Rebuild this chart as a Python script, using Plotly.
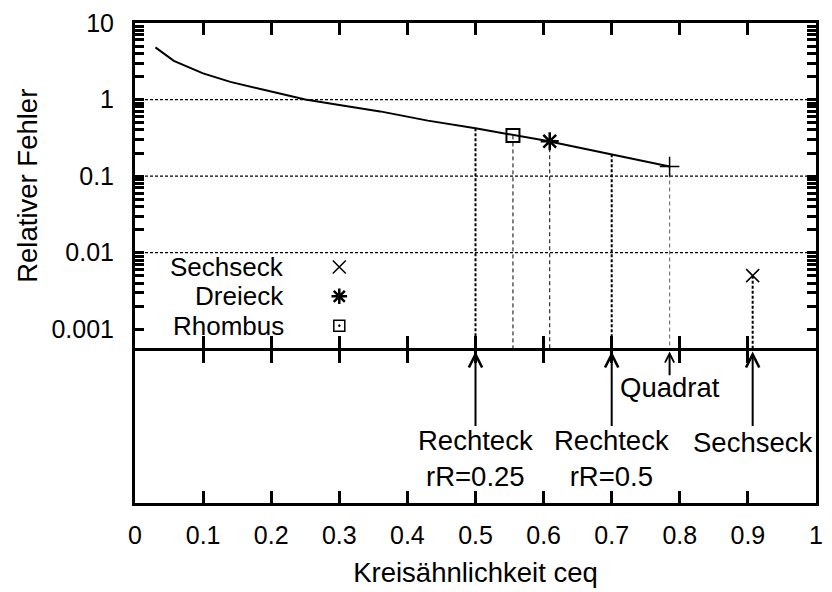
import plotly.graph_objects as go

# ---------------- data ----------------
CURVE_CEQ = [0.03, 0.043, 0.057, 0.1, 0.14, 0.2, 0.25, 0.3, 0.36, 0.43, 0.5, 0.6, 0.7, 0.785]
CURVE_ERR = [4.8, 3.95, 3.2, 2.2, 1.7, 1.27, 1.0, 0.85, 0.70, 0.53, 0.42, 0.293, 0.193, 0.133]

RECHTECK_CEQ = [0.5, 0.7]
RECHTECK_ERR = [0.42, 0.193]
RECHTECK_LABELS = ["Rechteck<br>rR=0.25", "Rechteck<br>rR=0.5"]

RHOMBUS_CEQ = [0.555]
RHOMBUS_ERR = [0.34]
DREIECK_CEQ = [0.609]
DREIECK_ERR = [0.285]
QUADRAT_CEQ = [0.785]
QUADRAT_ERR = [0.133]
SECHSECK_CEQ = [0.907]
SECHSECK_ERR = [0.005]

X_TICKS = [0, 0.1, 0.2, 0.3, 0.4, 0.5, 0.6, 0.7, 0.8, 0.9, 1.0]
X_TICK_LABELS = ["0", "0.1", "0.2", "0.3", "0.4", "0.5", "0.6", "0.7", "0.8", "0.9", "1"]
Y_TICKS = [0.001, 0.01, 0.1, 1, 10]
Y_TICK_LABELS = ["0.001", "0.01", "0.1", "1", "10"]
Y_GRID = [0.01, 0.1, 1]
Y_RANGE_LOG = [-3.253, 1.0]

LEGEND_NAMES = ["Sechseck", "Dreieck", "Rhombus"]

# ---------------- style ----------------
FONT = "Liberation Sans, Arial, Helvetica, sans-serif"
FS_TICK = 25
FS_TEXT = 27.5
FS_KEY = 26
TICK_COLOR = "black"
Y2_DOMAIN = [0, 0.3157]
Y_DOMAIN = [0.3219, 1]
LEG_X_TEXT = 0.221
LEG_X_MARK = 0.3
LEG_ROWS = [0.2504, 0.1603, 0.0702]
Y_MIN = 10 ** Y_RANGE_LOG[0]

# all y ticks (majors labelled, minors blank)
y_all, y_all_txt = [], []
for d in range(-3, 2):
    for k in range(1, 10):
        v = k * 10.0 ** d
        if v > 10.0001:
            continue
        lab = ""
        for t, s in zip(Y_TICKS, Y_TICK_LABELS):
            if abs(v - t) / t < 1e-9:
                lab = s
        y_all.append(v)
        y_all_txt.append(lab)


def drops(xs, ys):
    X, Y = [], []
    for x, y in zip(xs, ys):
        X += [x, x, None]
        Y += [y, Y_MIN, None]
    return X, Y


fig = go.Figure()

# horizontal grid lines
grid_x, grid_y = [], []
for g in Y_GRID:
    grid_x += [0, 1, None]
    grid_y += [g, g, None]
fig.add_trace(go.Scatter(x=grid_x, y=grid_y, xaxis="x2", yaxis="y", mode="lines",
                         line=dict(color="black", width=1.2, dash="3px,2px"), hoverinfo="skip"))

# drop lines
hx, hy = drops(RECHTECK_CEQ + SECHSECK_CEQ, RECHTECK_ERR + SECHSECK_ERR)
fig.add_trace(go.Scatter(x=hx, y=hy, xaxis="x2", yaxis="y", mode="lines",
                         line=dict(color="black", width=2, dash="3px,2px"), hoverinfo="skip"))
tx, ty = drops(RHOMBUS_CEQ + DREIECK_CEQ, RHOMBUS_ERR + DREIECK_ERR)
fig.add_trace(go.Scatter(x=tx, y=ty, xaxis="x2", yaxis="y", mode="lines",
                         line=dict(color="black", width=1, dash="4px,3px"), hoverinfo="skip"))
gx, gy = drops(QUADRAT_CEQ, QUADRAT_ERR)
fig.add_trace(go.Scatter(x=gx, y=gy, xaxis="x2", yaxis="y", mode="lines",
                         line=dict(color="#777777", width=1.2, dash="4px,3px"), hoverinfo="skip"))

# curve
fig.add_trace(go.Scatter(x=CURVE_CEQ, y=CURVE_ERR, xaxis="x2", yaxis="y", mode="lines",
                         line=dict(color="black", width=2)))

# markers
fig.add_trace(go.Scatter(x=RHOMBUS_CEQ, y=RHOMBUS_ERR, xaxis="x2", yaxis="y", mode="markers",
                         marker=dict(symbol="square-open", size=13, color="black",
                                     line=dict(width=2, color="black"))))
fig.add_trace(go.Scatter(x=DREIECK_CEQ, y=DREIECK_ERR, xaxis="x2", yaxis="y", mode="markers",
                         marker=dict(symbol="asterisk-open", size=15, color="black",
                                     line=dict(width=2.5, color="black"))))
fig.add_trace(go.Scatter(x=QUADRAT_CEQ, y=QUADRAT_ERR, xaxis="x2", yaxis="y", mode="markers",
                         marker=dict(symbol="cross-thin-open", size=14, color="black",
                                     line=dict(width=1.5, color="black"))))
fig.add_trace(go.Scatter(x=SECHSECK_CEQ, y=SECHSECK_ERR, xaxis="x2", yaxis="y", mode="markers",
                         marker=dict(symbol="x-thin-open", size=13, color="black",
                                     line=dict(width=1.5, color="black"))))

# key markers
key_symbols = ["x-thin-open", "asterisk-open", "square-open-dot"]
key_sizes = [13, 13, 11]
key_widths = [1.5, 2.5, 1.5]
for sym, sz, w, yy in zip(key_symbols, key_sizes, key_widths, LEG_ROWS):
    fig.add_trace(go.Scatter(x=[LEG_X_MARK], y=[yy], xaxis="x2", yaxis="y3", mode="markers",
                             marker=dict(symbol=sym, size=sz, color="black",
                                         line=dict(width=w, color="black"))))

# invisible trace so the lower subplot is created
fig.add_trace(go.Scatter(x=[0.5], y=[0.5], xaxis="x", yaxis="y2", mode="markers",
                         marker=dict(size=1, color="rgba(0,0,0,0)"), hoverinfo="skip"))

tfont = dict(family=FONT, size=FS_TEXT, color="black")
kfont = dict(family=FONT, size=FS_KEY, color="black")
annotations = []
for name, yy in zip(LEGEND_NAMES, LEG_ROWS):
    annotations.append(dict(x=LEG_X_TEXT, y=yy, xref="x2", yref="y3", text=name,
                            showarrow=False, xanchor="right", yanchor="middle", font=kfont))

arrow_style = dict(showarrow=True, arrowhead=5, arrowsize=1.3, arrowwidth=2,
                   arrowcolor="black", text="", xref="x", yref="y2", axref="x", ayref="y2")
for xv, lab in zip(RECHTECK_CEQ, RECHTECK_LABELS):
    annotations.append(dict(x=xv, y=1, ax=xv, ay=0.498, **arrow_style))
    annotations.append(dict(x=xv, y=0.295, xref="x", yref="y2", text=lab, showarrow=False,
                            xanchor="center", yanchor="middle", font=tfont))
for xv in SECHSECK_CEQ:
    annotations.append(dict(x=xv, y=1, ax=xv, ay=0.498, **arrow_style))
    annotations.append(dict(x=xv, y=0.40, xref="x", yref="y2", text="Sechseck", showarrow=False,
                            xanchor="center", yanchor="middle", font=tfont))
qa = dict(arrow_style)
qa["arrowsize"] = 0.9
for xv in QUADRAT_CEQ:
    annotations.append(dict(x=xv, y=1, ax=xv, ay=0.833, **qa))
    annotations.append(dict(x=xv, y=0.76, xref="x", yref="y2", text="Quadrat",
                            showarrow=False, xanchor="center", yanchor="middle", font=tfont))

axis_common = dict(showline=True, linewidth=3, linecolor="black", ticks="inside",
                   tickcolor=TICK_COLOR, ticklen=12, tickwidth=2.5, showgrid=False,
                   zeroline=False, tickfont=dict(family=FONT, size=FS_TICK, color="black"))

fig.update_layout(
    width=832, height=592,
    margin=dict(l=135, r=9, t=21, b=88),
    paper_bgcolor="white", plot_bgcolor="rgba(0,0,0,0)",
    showlegend=False,
    font=dict(family=FONT, size=FS_TICK, color="black"),
    xaxis=dict(domain=[0, 1], anchor="y2", range=[0, 1], tickvals=X_TICKS,
               ticktext=X_TICK_LABELS, mirror="ticks", ticklabelstandoff=8,
               title=dict(text="Kreisähnlichkeit ceq", standoff=15, font=tfont),
               **axis_common),
    xaxis2=dict(domain=[0, 1], anchor="y", range=[0, 1], tickvals=X_TICKS,
                showticklabels=False, mirror="ticks", **axis_common),
    yaxis=dict(domain=Y_DOMAIN, anchor="x2", type="log", range=Y_RANGE_LOG,
               tickvals=y_all, ticktext=y_all_txt, mirror="ticks", ticklabelstandoff=13,
               title=dict(text="Relativer Fehler", standoff=6, font=tfont),
               **axis_common),
    yaxis2=dict(domain=Y2_DOMAIN, anchor="x", range=[0, 1], showline=True,
                linewidth=3, linecolor="black", mirror=True, ticks="",
                showticklabels=False, showgrid=False, zeroline=False),
    yaxis3=dict(overlaying="y", anchor="x2", range=[0, 1], visible=False),
    annotations=annotations,
)
fig.update_yaxes(ticklen=9, selector=dict(type="log"))

fig.write_html("out.html", config={"displayModeBar": False},
               post_script="document.body.style.margin='0';document.body.style.padding='0';"
                           "document.documentElement.style.overflow='hidden';")
